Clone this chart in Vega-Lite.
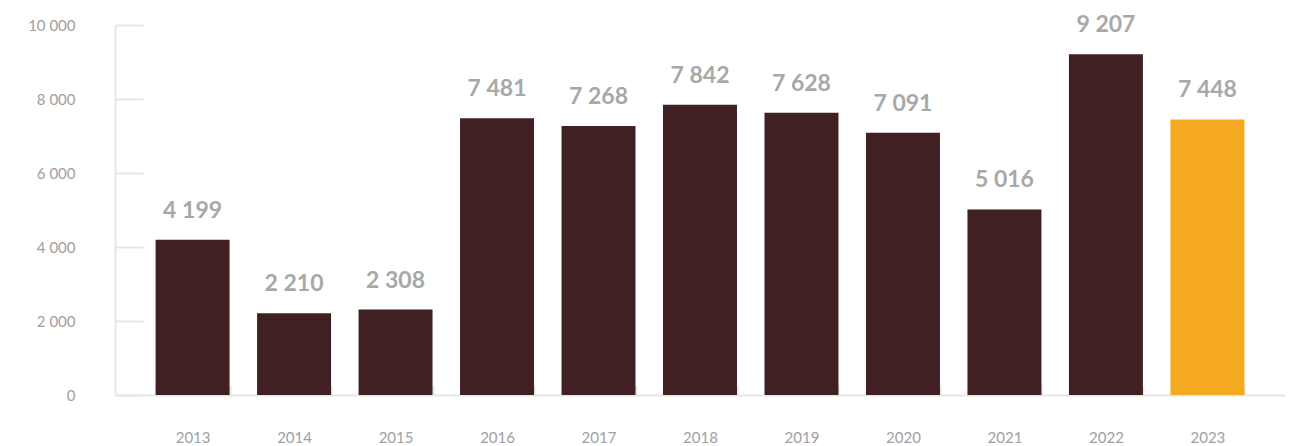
{
  "$schema": "https://vega.github.io/schema/vega-lite/v6.json",
  "width": 1170,
  "height": 370,
  "autosize": {"type": "none"},
  "padding": {"left": 115, "top": 25, "right": 18, "bottom": 51},
  "background": "white",
  "config": {
    "view": {"stroke": null},
    "font": "Lato",
    "locale": {"number": {"decimal": ",", "thousands": " ", "grouping": [3], "currency": ["", ""]}}
  },
  "data": {
    "values": [
      {"year": "2013", "value": 4199},
      {"year": "2014", "value": 2210},
      {"year": "2015", "value": 2308},
      {"year": "2016", "value": 7481},
      {"year": "2017", "value": 7268},
      {"year": "2018", "value": 7842},
      {"year": "2019", "value": 7628},
      {"year": "2020", "value": 7091},
      {"year": "2021", "value": 5016},
      {"year": "2022", "value": 9207},
      {"year": "2023", "value": 7448}
    ]
  },
  "encoding": {
    "x": {
      "field": "year",
      "type": "ordinal",
      "scale": {"paddingInner": 0.271, "paddingOuter": 0.4},
      "axis": {
        "title": null,
        "labelAngle": 0,
        "labelFont": "Lato",
        "labelFontSize": 15,
        "labelColor": "#a0a0a0",
        "labelPadding": 45,
        "domainColor": "#e6e6e6",
        "domainWidth": 2,
        "tickColor": "#e6e6e6",
        "tickWidth": 2,
        "tickSize": -10,
        "tickBand": "extent"
      }
    }
  },
  "layer": [
    {
      "mark": {"type": "bar"},
      "encoding": {
        "y": {
          "field": "value",
          "type": "quantitative",
          "scale": {"domain": [0, 10000], "nice": false},
          "axis": {
            "title": null,
            "values": [0, 2000, 4000, 6000, 8000, 10000],
            "format": ",d",
            "grid": false,
            "labelFont": "Lato",
            "labelFontSize": 15,
            "labelColor": "#a0a0a0",
            "labelPadding": 68,
            "domainColor": "#e6e6e6",
            "domainWidth": 2,
            "tickColor": "#e6e6e6",
            "tickWidth": 2,
            "tickSize": -28
          }
        },
        "color": {
          "condition": {"test": "datum.year == '2023'", "value": "#f4a920"},
          "value": "#402022"
        }
      }
    },
    {
      "mark": {"type": "text", "baseline": "alphabetic", "dy": -22, "fontSize": 23, "fontWeight": "bold", "font": "Lato", "color": "#a8a8a8"},
      "encoding": {
        "y": {"field": "value", "type": "quantitative"},
        "text": {"field": "value", "type": "quantitative", "format": ",d"}
      }
    }
  ]
}
